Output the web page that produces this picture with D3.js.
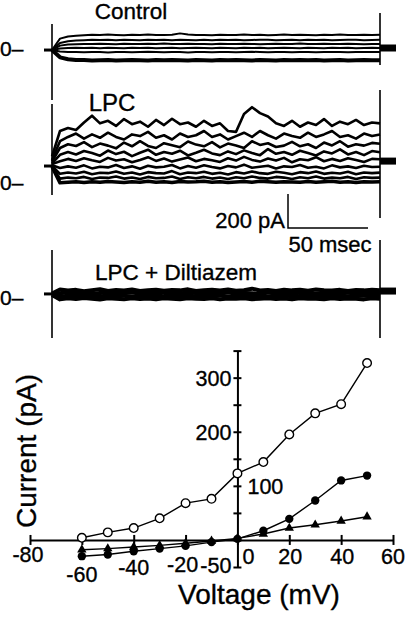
<html><head><style>
  body { margin: 0; background: #fff; }
  svg { display: block; font-family: "Liberation Sans", Arial, sans-serif; }
  text { fill: #000; stroke: #000; stroke-width: 0.35px; }
</style>
</head><body>
<svg id="fig" width="410" height="618"></svg>

<script src="https://cdnjs.cloudflare.com/ajax/libs/d3/7.8.5/d3.min.js"></script>
<script>
// ---- current traces (pA), sampled every 5 ms of the 205 ms step ----
const traceTimes = [0, 5, 10, 15, 20, 25, 30, 35, 40, 45, 50, 55, 60, 65, 70, 75, 80, 85, 90, 95, 100,
  105, 110, 115, 120, 125, 130, 135, 140, 145, 150, 155, 160, 165, 170, 175, 180, 185, 190, 195, 200, 205];

const controlTraces = [
  [-12, 55, 68, 72, 75, 78, 76, 79, 77, 75, 78, 76, 79, 77, 76, 78, 86, 79, 76, 77, 75, 78, 76, 77, 79, 76, 78, 75, 77, 79, 76, 78, 77, 75, 78, 76, 79, 77, 76, 78, 77, 78],
  [-12, 30, 40, 44, 46, 48, 47, 49, 46, 48, 47, 45, 48, 47, 49, 46, 48, 47, 45, 48, 46, 49, 47, 48, 46, 47, 49, 48, 46, 47, 48, 46, 49, 47, 48, 46, 47, 49, 48, 46, 47, 48],
  [-12, 14, 20, 22, 24, 23, 25, 24, 22, 25, 24, 23, 25, 24, 26, 23, 24, 25, 23, 24, 22, 25, 24, 23, 25, 24, 22, 24, 25, 23, 24, 26, 24, 23, 25, 24, 23, 25, 24, 22, 24, 24],
  [-12, -3, 0, 1, 0, 2, -1, 1, 0, -2, 1, 0, 2, -1, 0, 1, -1, 0, 2, 0, -1, 1, 0, -2, 1, 0, 1, -1, 0, 2, 0, -1, 1, 0, -1, 1, 0, 2, -1, 0, 1, 0],
  [-12, -20, -23, -24, -25, -23, -24, -26, -24, -23, -25, -24, -22, -24, -25, -23, -24, -26, -24, -23, -25, -24, -23, -25, -24, -22, -24, -25, -23, -24, -25, -24, -23, -25, -24, -23, -24, -25, -24, -23, -24, -24],
  [-12, -55, -66, -70, -71, -73, -72, -71, -73, -72, -70, -72, -73, -71, -72, -70, -72, -73, -71, -72, -73, -71, -72, -70, -72, -73, -71, -72, -73, -71, -72, -70, -72, -71, -73, -72, -71, -73, -72, -71, -72, -72]
];

const lpcTraces = [
  [150, 300, 318, 306, 350, 390, 345, 360, 330, 370, 340, 355, 325, 365, 335, 372, 340, 350, 325, 360, 330, 345, 300, 295, 400, 440, 405, 385, 345, 330, 360, 325, 350, 335, 370, 330, 355, 340, 365, 335, 350, 345],
  [130, 240, 265, 285, 255, 280, 260, 290, 265, 250, 280, 270, 295, 260, 275, 250, 285, 265, 275, 300, 265, 280, 250, 270, 290, 265, 300, 275, 255, 285, 270, 260, 290, 265, 280, 300, 265, 275, 255, 285, 270, 280],
  [120, 200, 222, 212, 235, 205, 226, 214, 198, 232, 210, 240, 212, 200, 228, 216, 205, 238, 220, 210, 235, 204, 226, 215, 200, 240, 218, 228, 206, 214, 236, 210, 222, 200, 232, 215, 240, 208, 222, 214, 230, 225],
  [110, 160, 176, 162, 182, 170, 155, 185, 164, 178, 152, 172, 190, 160, 176, 166, 184, 156, 172, 190, 168, 158, 180, 164, 186, 170, 158, 194, 166, 176, 160, 184, 170, 156, 180, 168, 192, 162, 176, 158, 182, 175],
  [105, 122, 136, 124, 140, 128, 118, 142, 126, 134, 116, 130, 146, 124, 138, 120, 132, 144, 122, 136, 128, 118, 140, 126, 148, 130, 120, 138, 126, 142, 116, 134, 128, 146, 122, 136, 124, 140, 130, 118, 136, 134],
  [98, 82, 92, 84, 98, 80, 90, 86, 100, 82, 92, 78, 96, 86, 90, 100, 80, 94, 84, 98, 88, 80, 94, 86, 102, 84, 90, 96, 80, 92, 88, 100, 84, 90, 80, 98, 86, 92, 82, 96, 88, 90],
  [95, 48, 56, 50, 60, 46, 54, 52, 62, 48, 56, 44, 58, 52, 50, 64, 46, 56, 52, 60, 48, 54, 44, 58, 50, 62, 52, 48, 60, 54, 46, 58, 52, 62, 48, 54, 50, 60, 46, 56, 52, 55],
  [92, 20, 26, 22, 30, 18, 26, 24, 32, 20, 26, 18, 30, 22, 24, 32, 18, 28, 22, 30, 20, 26, 18, 28, 22, 32, 24, 20, 30, 26, 18, 28, 22, 32, 20, 26, 22, 30, 18, 28, 24, 26],
  [90, -5, -2, 1, -3, 2, -1, 3, 0, -3, 2, -1, 4, -2, 1, -3, 3, 0, 1, 4, -2, 2, -3, 0, 3, -1, 4, 1, -2, 2, 0, -2, 3, -1, 1, 4, -2, 1, -3, 2, 0, 1]
];

const diltTraces = [
  [20, 44, 38, 42, 34, 40, 46, 36, 41, 38, 44, 35, 40, 43, 37, 41, 39, 45, 36, 40, 42, 38, 44, 37, 40, 49, 38, 41, 36, 43, 39, 42, 37, 44, 40, 38, 42, 36, 41, 39, 43, 40],
  [18, 22, 28, 20, 25, 18, 24, 27, 19, 23, 26, 20, 24, 18, 26, 22, 20, 27, 23, 19, 25, 21, 27, 20, 24, 22, 18, 26, 21, 24, 19, 27, 22, 20, 25, 23, 19, 26, 21, 24, 22, 23],
  [15, 2, 8, 4, 10, 6, 3, 9, 5, 8, 2, 7, 9, 4, 6, 10, 3, 7, 5, 9, 4, 8, 2, 6, 9, 5, 8, 3, 7, 10, 4, 6, 9, 5, 3, 8, 6, 4, 9, 7, 5, 6],
  [12, -14, -8, -12, -6, -11, -15, -8, -10, -13, -7, -12, -9, -14, -8, -11, -13, -7, -10, -12, -8, -14, -9, -11, -7, -13, -10, -8, -12, -9, -14, -7, -11, -10, -13, -8, -12, -9, -11, -14, -8, -10]
];

// holding current before the step and tail after it (pA)
const holdingTimes = [-5, 0];
const tailTimes = [205, 215];
const holding = { control: -12, lpc: 94, dilt: 18 };
const tailLevel = { control: 0, lpc: 123, dilt: 35 };

// capacitive transients at step on / off, [top, bottom] in pA
const onArtifact = { control: [141, -306], lpc: [459, -76], dilt: [276, -241] };
const offArtifact = { control: [206, -100], lpc: [541, -212], dilt: [335, -241] };

// ---- I-V relation ----
const voltages = [-60, -50, -40, -30, -20, -10, 0, 10, 20, 30, 40, 50];
const lpcCurrent = [4, 14, 22, 40, 68, 76, 123, 144, 195, 234, 251, 327];
const lpcDiltCurrent = [-30, -27, -21, -16, -11, -4, 2, 17, 39, 73, 110, 119];
const controlCurrent = [-18, -16, -13, -10, -6, -2, 3, 11, 22, 28, 35, 43];
const xTickValues = [-80, -60, -40, -20, 0, 20, 40, 60];
const yTickValues = [-50, 0, 50, 100, 150, 200, 250, 300, 350];
const yLabelValues = [300, 200, 100, -50];

const svg = d3.select("#fig");

// ================= traces =================
const tScale = d3.scaleLinear().domain([0, 205]).range([52, 380]);

const panels = [
  { key: "control", zeroY: 48, traces: controlTraces, label: "Control", lx: 131, ly: 19, fs: 22.5, width: 2, bottomWidth: 4 },
  { key: "lpc", zeroY: 182, traces: lpcTraces, label: "LPC", lx: 112, ly: 111, fs: 24, width: 2.6, bottomWidth: 3.5 },
  { key: "dilt", zeroY: 297, traces: diltTraces, label: "LPC + Diltiazem", lx: 176, ly: 280, fs: 22.5, width: 4, bottomWidth: 4 }
];

panels.forEach(p => {
  // 200 pA = 34 px
  const yP = d3.scaleLinear().domain([0, 200]).range([p.zeroY, p.zeroY - 34]);
  p.y = yP;
  const g = svg.append("g");

  const line = d3.line()
    .x((d, i) => tScale(traceTimes[i]))
    .y(d => yP(d));

  g.selectAll("path.trace")
    .data(p.traces)
    .enter()
    .append("path")
    .attr("class", "trace")
    .attr("d", line)
    .attr("fill", "none")
    .attr("stroke", "#000")
    .attr("stroke-linejoin", "round")
    .attr("stroke-width", (d, i) => i === p.traces.length - 1 ? p.bottomWidth : p.width);

  // holding stub and tail
  g.append("line")
    .attr("x1", tScale(holdingTimes[0])).attr("x2", tScale(holdingTimes[1]))
    .attr("y1", yP(holding[p.key])).attr("y2", yP(holding[p.key]))
    .attr("stroke", "#000").attr("stroke-width", 3);
  g.append("line")
    .attr("x1", tScale(tailTimes[0])).attr("x2", tScale(tailTimes[1]))
    .attr("y1", yP(tailLevel[p.key])).attr("y2", yP(tailLevel[p.key]))
    .attr("stroke", "#000").attr("stroke-width", 7);

  // transients
  [[0, onArtifact[p.key]], [205, offArtifact[p.key]]].forEach(([t, ext]) => {
    g.append("line")
      .attr("x1", tScale(t)).attr("x2", tScale(t))
      .attr("y1", yP(ext[0])).attr("y2", yP(ext[1]))
      .attr("stroke", "#000").attr("stroke-width", 1.6);
  });

  g.append("text")
    .attr("x", 0).attr("y", p.zeroY + 7.5)
    .attr("font-size", 21)
    .text("0–");

  g.append("text")
    .attr("x", p.lx).attr("y", p.ly)
    .attr("text-anchor", "middle")
    .attr("font-size", p.fs)
    .text(p.label);
});

// scale bar: 200 pA, 50 msec
const lpcY = panels[1].y;
const barX = 288, barBottom = 228;
svg.append("path")
  .attr("d", `M${barX},${barBottom - (lpcY(0) - lpcY(200))}V${barBottom}H${barX + tScale(50) - tScale(0)}`)
  .attr("fill", "none").attr("stroke", "#000").attr("stroke-width", 1.5);
svg.append("text").attr("x", 285).attr("y", 228).attr("text-anchor", "end").attr("font-size", 22).text("200 pA");
svg.append("text").attr("x", 330).attr("y", 252).attr("text-anchor", "middle").attr("font-size", 22).text("50 msec");

// ================= I-V plot =================
const x = d3.scaleLinear().domain([-80, 60]).range([30, 393]);
const y = d3.scaleLinear().domain([-50, 350]).range([567, 350.6]);

const xAxis = svg.append("g")
  .attr("transform", `translate(0,${y(0)})`)
  .call(d3.axisBottom(x).tickValues(xTickValues).tickSizeOuter(0).tickFormat(""));
const yAxis = svg.append("g")
  .attr("transform", `translate(${x(0)},0)`)
  .call(d3.axisLeft(y).tickValues(yTickValues).tickSizeOuter(0).tickFormat(""));

[xAxis, yAxis].forEach(a => {
  a.select(".domain").attr("stroke", "#000").attr("stroke-width", 2);
  a.selectAll(".tick line").attr("stroke", "#000").attr("stroke-width", 2);
});
xAxis.selectAll(".tick line").attr("y1", -5).attr("y2", 5);
yAxis.selectAll(".tick line").attr("x1", -4).attr("x2", 4);

// tick labels, placed as in the original figure
const xLabelNudge = { "-80": [-2, 15], "-60": [0, 35], "-40": [0, 28], "-20": [-3, 25], "0": [11, 17], "20": [1, 17], "40": [1, 17], "60": [0, 17] };
xTickValues.forEach(v => {
  const n = xLabelNudge[String(v)];
  svg.append("text")
    .attr("x", x(v) + n[0]).attr("y", y(0) + n[1] + 7.5)
    .attr("text-anchor", "middle").attr("font-size", 21.5)
    .text(v);
});
yLabelValues.forEach(v => {
  const right = v === 100;
  svg.append("text")
    .attr("x", right ? x(0) + 10 : x(0) - 6)
    .attr("y", y(v) + 7.5 + (v === -50 ? -2 : 1))
    .attr("text-anchor", right ? "start" : "end")
    .attr("font-size", 21.5)
    .text(v);
});

svg.append("text")
  .attr("x", 259).attr("y", 604)
  .attr("text-anchor", "middle").attr("font-size", 28)
  .text("Voltage (mV)");
svg.append("text")
  .attr("transform", "translate(36,451) rotate(-90)")
  .attr("text-anchor", "middle").attr("font-size", 28)
  .text("Current (pA)");

const ivLine = d3.line().x((d, i) => x(voltages[i])).y(d => y(d));
const series = [
  { values: controlCurrent, shape: "triangle" },
  { values: lpcDiltCurrent, shape: "filled" },
  { values: lpcCurrent, shape: "open" }
];

series.forEach(s => {
  svg.append("path")
    .attr("d", ivLine(s.values))
    .attr("fill", "none").attr("stroke", "#000").attr("stroke-width", 1.4);
});

series.forEach(s => {
  const pts = svg.append("g").selectAll("path")
    .data(s.values)
    .enter()
    .append("path")
    .attr("transform", (d, i) => `translate(${x(voltages[i])},${y(d)})`);
  if (s.shape === "triangle") {
    pts.attr("d", d3.symbol(d3.symbolTriangle, 38)).attr("fill", "#000");
  } else if (s.shape === "filled") {
    pts.attr("d", d3.symbol(d3.symbolCircle, 55)).attr("fill", "#000");
  } else {
    pts.attr("d", d3.symbol(d3.symbolCircle, 58)).attr("fill", "#fff").attr("stroke", "#000").attr("stroke-width", 1.4);
  }
});
</script>
</body></html>
